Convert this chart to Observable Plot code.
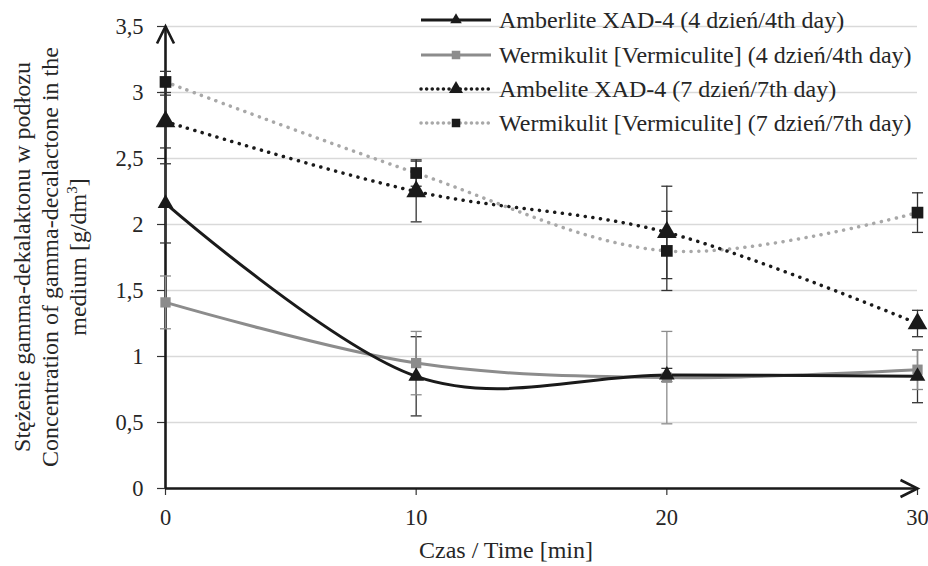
<!DOCTYPE html>
<html>
<head>
<meta charset="utf-8">
<script src="https://cdn.jsdelivr.net/npm/d3@7"></script>
<script src="https://cdn.jsdelivr.net/npm/@observablehq/plot@0.6"></script>
<style>
  body { margin: 0; background: #fff; }
  #wrap { position: relative; width: 928px; height: 566px; font-family: "Liberation Serif", "Times New Roman", serif; color: #262626; overflow: hidden; }
  #wrap svg text { font-family: "Liberation Serif", "Times New Roman", serif; }
  #legend { position: absolute; left: 419px; top: 3px; }
  .row { display: flex; align-items: center; height: 34.4px; font-size: 24px; white-space: nowrap; line-height: 1; }
  .row svg { margin-right: 6px; }
</style>
</head>
<body>
<div id="wrap"></div>
<script>
// ---- data ----
const times = [0, 10, 20, 30];
const seriesNames = [
  "Amberlite XAD-4 (4 dzień/4th day)",
  "Wermikulit [Vermiculite] (4 dzień/4th day)",
  "Ambelite XAD-4 (7 dzień/7th day)",
  "Wermikulit [Vermiculite] (7 dzień/7th day)"
];
const amberlite4 = [2.16, 0.85, 0.86, 0.85];
const amberlite4Err = [0.30, 0.30, 0.05, 0.20];
const wermikulit4 = [1.41, 0.95, 0.84, 0.90];
const wermikulit4Err = [0.20, 0.24, 0.35, 0.15];
const amberlite7 = [2.78, 2.25, 1.94, 1.25];
const amberlite7Err = [0.20, 0.23, 0.35, 0.10];
const wermikulit7 = [3.08, 2.39, 1.80, 2.09];
const wermikulit7Err = [0.08, 0.10, 0.30, 0.15];
const yTicks = [0, 0.5, 1, 1.5, 2, 2.5, 3, 3.5];
const xTicks = [0, 10, 20, 30];
const yTitle = ["Stężenie gamma-dekalaktonu w podłozu", "Concentration of gamma-decalactone in the", "medium [g/dm³]"];
const xTitle = "Czas / Time [min]";

// ---- styles per series ----
const styles = [
  {line: "#1a1a1a", width: 3, dash: null, marker: "triangle", mfill: "#1a1a1a", err: "#333", r: 5.8, lr: 4.3},
  {line: "#8c8c8c", width: 3, dash: null, marker: "square", mfill: "#8c8c8c", err: "#8c8c8c", r: 5.8, lr: 4.8},
  {line: "#1a1a1a", width: 3.5, dash: "0.1 7.6", marker: "triangle", mfill: "#1a1a1a", err: "#333", r: 7.3, lr: 5.2},
  {line: "#a8a8a8", width: 3.5, dash: "0.1 7.6", marker: "square", mfill: "#1a1a1a", err: "#333", r: 6.6, lr: 4.8}
];
const values = [amberlite4, wermikulit4, amberlite7, wermikulit7];
const errs = [amberlite4Err, wermikulit4Err, amberlite7Err, wermikulit7Err];

const tables = values.map((vals, i) => times.map((t, j) => ({t, v: vals[j], e: errs[i][j], s: seriesNames[i]})));

const capSymbol = {draw(ctx, size) { const r = Math.sqrt(size / Math.PI); ctx.moveTo(-r, 0); ctx.lineTo(r, 0); }};
const chevron = {draw(ctx, size) { const r = Math.sqrt(size / Math.PI); ctx.moveTo(-r * 0.5, r); ctx.lineTo(0, 0); ctx.lineTo(r * 0.5, r); }};

const marks = [
  Plot.gridY(yTicks, {stroke: "#d9d9d9", strokeOpacity: 1, strokeWidth: 1.3}),
  Plot.axisY({ticks: yTicks, tickFormat: d => String(d).replace(".", ","), tickSize: 8, tickPadding: 14, fontSize: 22.5, stroke: "#333", strokeWidth: 1.2, label: null}),
  Plot.axisX({ticks: xTicks, tickFormat: d => String(d), tickSize: 7, tickPadding: 14, fontSize: 22.5, stroke: "#333", strokeWidth: 1.2, label: null}),
  Plot.ruleX([0], {stroke: "#1a1a1a", strokeWidth: 2.6}),
  Plot.ruleY([0], {stroke: "#1a1a1a", strokeWidth: 2.6}),
  Plot.dot([[0, 3.5]], {x: d => d[0], y: d => d[1], symbol: chevron, r: 17, stroke: "#1a1a1a", fill: "none", strokeWidth: 2.6, strokeLinejoin: "miter"}),
  Plot.dot([[30, 0]], {x: d => d[0], y: d => d[1], symbol: chevron, r: 17, rotate: 90, stroke: "#1a1a1a", fill: "none", strokeWidth: 2.6, strokeLinejoin: "miter"})
];

// error bars
tables.forEach((tab, i) => {
  const st = styles[i];
  marks.push(Plot.ruleX(tab, {x: "t", y1: d => d.v - d.e, y2: d => d.v + d.e, stroke: st.err, strokeWidth: 1.3}));
  marks.push(Plot.dot(tab, {x: "t", y: d => d.v - d.e, symbol: capSymbol, r: 5.5, stroke: st.err, strokeWidth: 1.3, fill: "none"}));
  marks.push(Plot.dot(tab, {x: "t", y: d => d.v + d.e, symbol: capSymbol, r: 5.5, stroke: st.err, strokeWidth: 1.3, fill: "none"}));
});
// lines (7-day first, then 4-day on top)
[3, 2, 1, 0].forEach(i => {
  const st = styles[i];
  marks.push(Plot.line(tables[i], {x: "t", y: "v", curve: "cardinal", stroke: st.line, strokeWidth: st.width, strokeDasharray: st.dash, strokeLinecap: st.dash ? "round" : "butt"}));
});
[3, 2, 1, 0].forEach(i => {
  const st = styles[i];
  marks.push(Plot.dot(tables[i], {x: "t", y: "v", symbol: st.marker, r: st.r, fill: st.mfill, stroke: "none"}));
});

const plot = Plot.plot({
  width: 928,
  height: 566,
  marginLeft: 165,
  marginRight: 11,
  marginTop: 26,
  marginBottom: 78,
  x: {domain: [0, 30]},
  y: {domain: [0, 3.5]},
  style: {fontFamily: '"Liberation Serif", "Times New Roman", serif', fontSize: "22.5px", color: "#262626", background: "white"},
  marks
});

const wrap = document.getElementById("wrap");
wrap.appendChild(plot);

// make sure tick labels use the intended size
d3.select(plot).selectAll('g[aria-label$="tick label"]').attr("font-size", 22.5).attr("fill", "#262626");

// axis titles
const svg = d3.select(plot);
const yc = 257;
const g = svg.append("g").attr("transform", `translate(0,${yc}) rotate(-90)`)
  .attr("font-size", 24).attr("fill", "#262626").attr("text-anchor", "middle");
yTitle.forEach((line, k) => {
  const t = g.append("text").attr("x", 0).attr("y", 30 + k * 28);
  if (line.includes("³")) {
    t.append("tspan").text(line.split("³")[0]);
    t.append("tspan").attr("font-size", 15).attr("dy", -9).text("3");
    t.append("tspan").attr("dy", 9).text(line.split("³")[1]);
  } else t.text(line);
});
svg.append("text").attr("x", 506).attr("y", 558).attr("text-anchor", "middle")
  .attr("font-size", 24).attr("fill", "#262626").text(xTitle);

// legend
const legend = document.createElement("div");
legend.id = "legend";
seriesNames.forEach((name, i) => {
  const st = styles[i];
  const row = document.createElement("div");
  row.className = "row";
  const s = d3.create("svg").attr("width", 74).attr("height", 20);
  s.append("line").attr("x1", 2).attr("x2", 72).attr("y1", 10).attr("y2", 10)
    .attr("stroke", st.line).attr("stroke-width", st.width)
    .attr("stroke-dasharray", st.dash ? "0.1 5.5" : null).attr("stroke-linecap", st.dash ? "round" : "butt");
  const sym = d3.symbol(st.marker === "triangle" ? d3.symbolTriangle : d3.symbolSquare, st.lr ** 2 * Math.PI);
  s.append("path").attr("d", sym()).attr("transform", "translate(37,10)").attr("fill", st.mfill);
  row.appendChild(s.node());
  const span = document.createElement("span");
  span.textContent = name;
  row.appendChild(span);
  legend.appendChild(row);
});
wrap.appendChild(legend);
</script>
</body>
</html>
